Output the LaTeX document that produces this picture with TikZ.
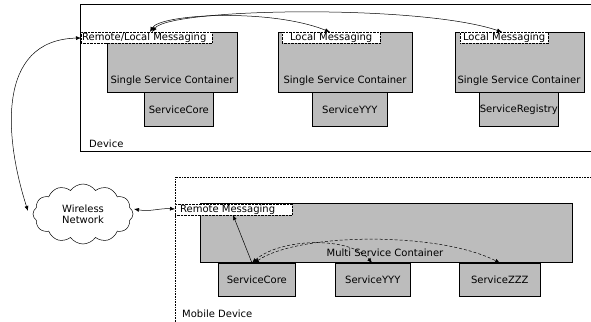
\documentclass[tikz,border=0pt]{standalone}
\usepackage{fontspec}
\setmainfont{DejaVu Sans}
\usetikzlibrary{shapes.symbols,arrows.meta}
\definecolor{dith}{RGB}{188,188,188}
\begin{document}
\begin{tikzpicture}[x=1pt,y=-1pt,
  font=\fontsize{10}{11}\selectfont,
  box/.style={draw=black,fill=dith,line width=0.6pt,anchor=north west,inner sep=0pt},
  lbl/.style={draw=black,densely dotted,fill=white,anchor=north west,inner sep=1pt,minimum height=11pt,text height=7pt,text depth=2pt},
  txt/.style={inner sep=0pt},
  arr/.style={line width=0.5pt,{Latex[length=5pt,width=4pt]}-{Latex[length=5pt,width=4pt]}},
  darr/.style={line width=0.5pt,densely dashed,{Latex[length=5pt,width=4pt]}-{Latex[length=5pt,width=4pt]}}]
\useasboundingbox (0,0) rectangle (591,321);
% Device
\draw[line width=0.7pt] (600,4) -- (80,4) -- (80,151) -- (600,151);
\node[txt,anchor=west] (dev) at (89,144) {Device};
% container 1
\node[box,minimum width=130pt,minimum height=60pt] (c1) at (107,32) {};
\node[box,minimum width=69pt,minimum height=34pt] (s1) at (144,92) {};
\node[txt] (s1t) at (s1.center) {ServiceCore};
\node[txt] (c1t) at (172,81) {Single Service Container};
\node[lbl,minimum width=131pt,anchor=north west] (m1) at (81,32) {};
\node[txt,anchor=west] (m1t) at (82,37.5) {Remote/Local Messaging};
% container 2
\node[box,minimum width=134pt,minimum height=60pt] (c2) at (278,32) {};
\node[box,minimum width=75pt,minimum height=34pt] (s2) at (312,92) {};
\node[txt] (s2t) at (s2.center) {ServiceYYY};
\node[txt] (c2t) at (345,81) {Single Service Container};
\node[lbl,minimum width=98pt] (m2) at (282,32) {};
\node[txt] (m2t) at (m2.center) {Local Messaging};
% container 3
\node[box,minimum width=129pt,minimum height=60pt] (c3) at (455,32) {};
\node[box,minimum width=79pt,minimum height=34pt] (s3) at (479,92) {};
\node[txt] (s3t) at (s3.center) {ServiceRegistry};
\node[txt] (c3t) at (519,81) {Single Service Container};
\node[lbl,minimum width=88pt] (m3) at (460,32) {};
\node[txt] (m3t) at (m3.center) {Local Messaging};
% top arrows
\coordinate (a1) at (150,32);
\coordinate (a1b) at (152,32);
\coordinate (a2) at (330,32);
\coordinate (a3) at (502,32);
\draw[arr] (a1) .. controls (160,14) and (270,8) .. (a2);
\draw[arr] (a1b) .. controls (170,8) and (420,4) .. (a3);
% cloud
\node[cloud,draw=black,fill=white,cloud puffs=12,cloud puff arc=110,aspect=1.7,minimum width=100pt,minimum height=60pt,inner sep=0pt,align=center,line width=0.5pt] (cl) at (83,214) {Wireless\\Network};
\coordinate (cl1) at (28,211);
\coordinate (cl2) at (134,209);
\coordinate (m1w) at (81,38);
\draw[arr] (cl1) .. controls (5,140) and (-5,40) .. (m1w);
% Mobile device
\draw[densely dotted,line width=0.6pt] (175,330) -- (175,177) -- (600,177);
\node[txt,anchor=west] (mdev) at (182,314) {Mobile Device};
\node[box,minimum width=372pt,minimum height=59pt] (mc) at (200,203) {};
\node[box,minimum width=77pt,minimum height=33pt] (ms1) at (218,263) {};
\node[txt] (ms1t) at (ms1.center) {ServiceCore};
\node[box,minimum width=75pt,minimum height=33pt] (ms2) at (335,263) {};
\node[txt] (ms2t) at (ms2.center) {ServiceYYY};
\node[box,minimum width=81pt,minimum height=33pt] (ms3) at (459,263) {};
\node[txt] (ms3t) at (ms3.center) {ServiceZZZ};
\node[txt] (mct) at (385,253) {Multi Service Container};
\node[lbl,minimum width=117pt] (rm) at (175,204) {};
\node[txt,anchor=west] (rmt) at (180,209.5) {Remote Messaging};
\coordinate (rmw) at (175,209);
\draw[arr] (cl2) .. controls (150,212) and (160,208) .. (rmw);
\coordinate (mc1) at (252,263);
\coordinate (mc1b) at (254,263);
\coordinate (mc2) at (372,263);
\coordinate (mc3) at (500,263);
\coordinate (rmp) at (233,215);
\draw[line width=0.5pt,-{Latex[length=5pt,width=4pt]}] (mc1) -- (rmp);
\draw[darr] (mc1) .. controls (280,238) and (350,236) .. (mc2);
\draw[darr] (mc1b) .. controls (300,232) and (440,232) .. (mc3);
\end{tikzpicture}
\end{document}
